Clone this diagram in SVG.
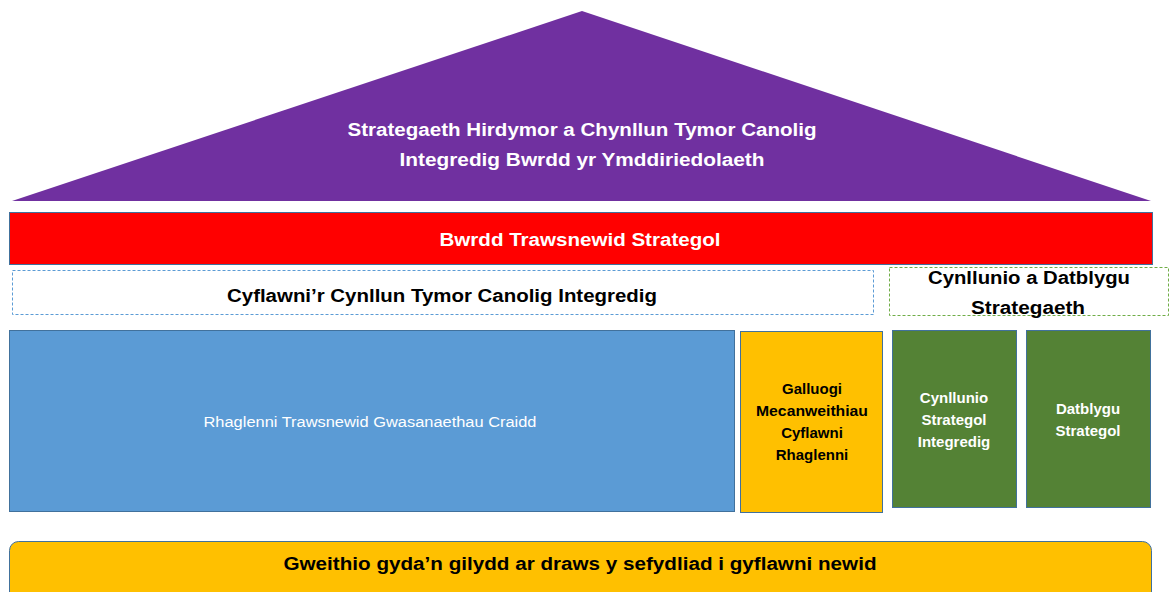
<svg xmlns="http://www.w3.org/2000/svg" width="1174" height="592" viewBox="0 0 1174 592">
<style>
text{font-family:"Liberation Sans",Arial,sans-serif;font-weight:bold;text-anchor:middle}
.w{fill:#ffffff}
.k{fill:#000000}
.box{stroke:#41719C;stroke-width:1}
</style>
<rect width="1174" height="592" fill="#ffffff"/>
<g id="roof">
<polygon points="582,11 1151,201 12,201" fill="#7030A0"/>
<text class="w" x="582" y="136" font-size="18" textLength="469" lengthAdjust="spacingAndGlyphs">Strategaeth Hirdymor a Chynllun Tymor Canolig</text>
<text class="w" x="582" y="166" font-size="18" textLength="365" lengthAdjust="spacingAndGlyphs">Integredig Bwrdd yr Ymddiriedolaeth</text>
</g>
<g id="board">
<rect class="box" x="9.5" y="212.5" width="1143" height="52" fill="#FF0000"/>
<text class="w" x="580" y="246" font-size="18" textLength="281" lengthAdjust="spacingAndGlyphs">Bwrdd Trawsnewid Strategol</text>
</g>
<g id="delivery">
<rect x="12.5" y="270.5" width="861" height="44" fill="#ffffff" stroke="#5B9BD5" stroke-dasharray="3,2"/>
<text class="k" x="442" y="302" font-size="18" textLength="430" lengthAdjust="spacingAndGlyphs">Cyflawni’r Cynllun Tymor Canolig Integredig</text>
</g>
<g id="planning">
<rect x="889.5" y="267.5" width="279" height="48" fill="#ffffff" stroke="#70AD47" stroke-dasharray="3,2"/>
<text class="k" x="1029" y="284" font-size="18" textLength="202" lengthAdjust="spacingAndGlyphs">Cynllunio a Datblygu</text>
<text class="k" x="1028" y="314" font-size="18" textLength="114" lengthAdjust="spacingAndGlyphs">Strategaeth</text>
</g>
<g id="core">
<rect class="box" x="9.5" y="330.5" width="725" height="181" fill="#5B9BD5"/>
<text class="w" x="370" y="427" font-size="14" font-weight="normal" style="font-weight:normal" textLength="333" lengthAdjust="spacingAndGlyphs">Rhaglenni Trawsnewid Gwasanaethau Craidd</text>
</g>
<g id="enabling">
<rect class="box" x="740.5" y="331.5" width="142" height="181" fill="#FFC000"/>
<text class="k" x="812" y="394" font-size="15">Galluogi</text>
<text class="k" x="812" y="416" font-size="15" textLength="112" lengthAdjust="spacingAndGlyphs">Mecanweithiau</text>
<text class="k" x="812" y="438" font-size="15">Cyflawni</text>
<text class="k" x="812" y="460" font-size="15">Rhaglenni</text>
</g>
<g id="planning-integrated">
<rect class="box" x="892.5" y="330.5" width="124" height="177" fill="#548235"/>
<text class="w" x="954" y="403" font-size="15">Cynllunio</text>
<text class="w" x="954" y="425" font-size="15">Strategol</text>
<text class="w" x="954" y="447" font-size="15">Integredig</text>
</g>
<g id="development">
<rect class="box" x="1026.5" y="330.5" width="124" height="177" fill="#548235"/>
<text class="w" x="1088" y="414" font-size="15">Datblygu</text>
<text class="w" x="1088" y="436" font-size="15">Strategol</text>
</g>
<g id="foundation">
<rect class="box" x="9.5" y="541.5" width="1142" height="70" rx="9" fill="#FFC000"/>
<text class="k" x="580" y="570" font-size="18" textLength="593" lengthAdjust="spacingAndGlyphs">Gweithio gyda’n gilydd ar draws y sefydliad i gyflawni newid</text>
</g>
<g id="connectors"></g>
</svg>
